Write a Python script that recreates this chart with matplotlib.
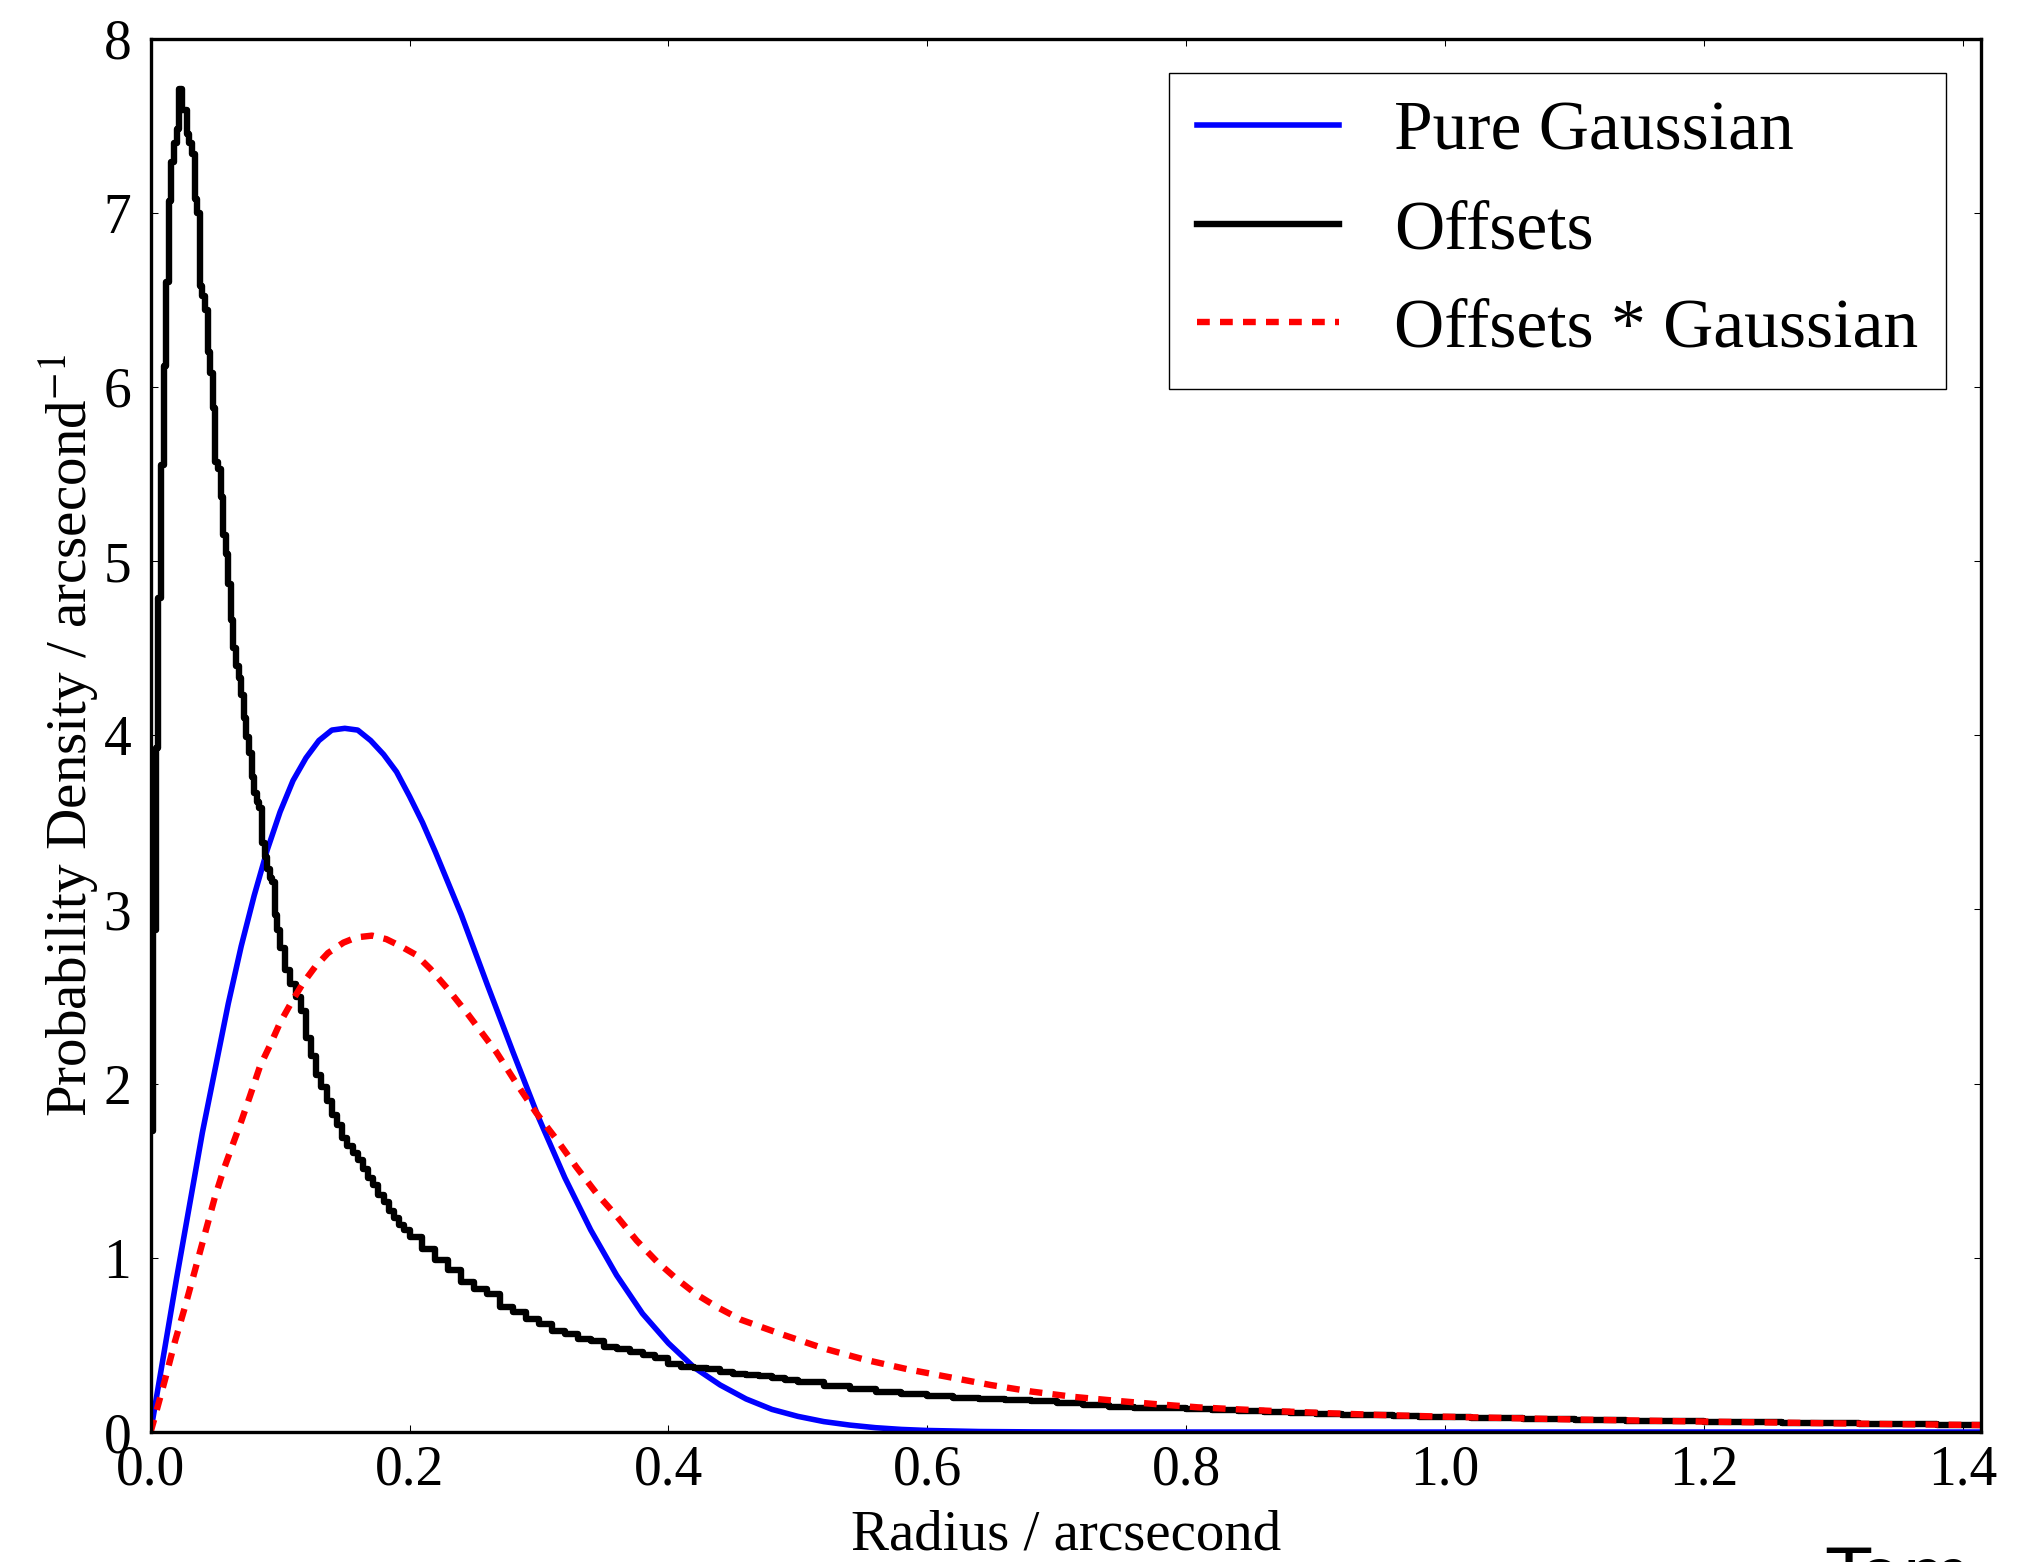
"""Radial offset distributions: pure Gaussian, measured offsets, and their convolution."""

import matplotlib
matplotlib.use("Agg")
import matplotlib.pyplot as plt
import numpy as np

plt.rcParams["font.family"] = "serif"
plt.rcParams["font.serif"] = ["Liberation Serif", "DejaVu Serif"]
plt.rcParams["mathtext.fontset"] = "stix"

# Pure Gaussian (radial) curve
gauss_r = [0, 0.02, 0.04, 0.06, 0.07, 0.08, 0.09, 0.10, 0.11, 0.12, 0.13, 0.14, 0.15,
           0.16, 0.17, 0.18, 0.19, 0.20, 0.21, 0.22, 0.23, 0.24, 0.25, 0.26, 0.28, 0.30,
           0.32, 0.34, 0.36, 0.38, 0.40, 0.42, 0.44, 0.46, 0.48, 0.50, 0.52, 0.54,
           0.56, 0.58, 0.60, 0.64, 0.68, 0.72, 0.80, 1.0, 1.414]
gauss_v = [0, 0.88, 1.72, 2.46, 2.79, 3.08, 3.34, 3.56, 3.74, 3.87, 3.97, 4.03, 4.04,
           4.03, 3.97, 3.89, 3.79, 3.65, 3.50, 3.33, 3.15, 2.97, 2.77, 2.57, 2.18, 1.80,
           1.46, 1.16, 0.90, 0.68, 0.51, 0.37, 0.27, 0.19, 0.13, 0.09, 0.06, 0.04,
           0.025, 0.015, 0.009, 0.003, 0.001, 0.0, 0.0, 0.0, 0.0]

# Offsets histogram, in four stretches of different bin width
offs_fine = [1.73, 2.88, 3.93, 4.79, 5.55, 6.12, 6.60, 7.07, 7.29, 7.40,
             7.48, 7.71, 7.59, 7.59, 7.45, 7.40, 7.34, 7.08, 7.00, 6.58,
             6.52, 6.44, 6.20, 6.08, 5.88, 5.57, 5.53, 5.37, 5.15, 5.04,
             4.87, 4.66, 4.50, 4.40, 4.33, 4.23, 4.10, 3.99, 3.90, 3.76,
             3.67, 3.62, 3.58, 3.38, 3.30, 3.23, 3.18, 3.16, 2.97, 2.88]   # 0.002 bins from 0
offs_mid = [2.78, 2.65, 2.57, 2.50, 2.42, 2.26, 2.16, 2.05, 1.98, 1.90,
            1.82, 1.76, 1.69, 1.64, 1.60, 1.56, 1.51, 1.46, 1.42, 1.36,
            1.32, 1.27, 1.23, 1.19, 1.16]                                    # 0.004 bins from 0.1
offs_wide = [1.12, 1.05, 0.99, 0.93, 0.86, 0.82, 0.79, 0.72, 0.69, 0.65,
             0.62, 0.58, 0.56, 0.535, 0.52, 0.49, 0.475, 0.46, 0.44, 0.425,
             0.39, 0.375, 0.37, 0.36, 0.345, 0.335, 0.325, 0.32, 0.31, 0.30]  # 0.01 bins from 0.2
offs_tail = [0.285, 0.265, 0.245, 0.23, 0.22, 0.205, 0.196, 0.19, 0.183, 0.178,
             0.165, 0.155, 0.142, 0.14, 0.137, 0.131, 0.125, 0.12, 0.113, 0.108,
             0.106, 0.099, 0.095, 0.091, 0.089, 0.085, 0.082, 0.079, 0.077, 0.073,
             0.070, 0.068, 0.066, 0.064, 0.062, 0.059, 0.056, 0.055, 0.053, 0.051,
             0.050, 0.048, 0.046, 0.044, 0.042, 0.041]                       # 0.02 bins from 0.5

# Offsets convolved with the Gaussian
conv_r = [0, 0.0034, 0.0111, 0.0188, 0.0266, 0.0343, 0.042, 0.0497, 0.0561, 0.0639,
          0.0703, 0.0768, 0.0845, 0.0922, 0.100, 0.109, 0.118, 0.127, 0.137, 0.149,
          0.159, 0.171, 0.182, 0.193, 0.205, 0.216, 0.230, 0.245, 0.2672, 0.2827,
          0.2981, 0.3136, 0.329, 0.3445, 0.36, 0.3754, 0.3909, 0.4062, 0.4217, 0.437,
          0.456, 0.488, 0.520, 0.552, 0.585, 0.617, 0.649, 0.681, 0.713, 0.745,
          0.777, 0.809, 0.841, 0.873, 0.91, 0.95, 1.0, 1.05, 1.10, 1.15,
          1.20, 1.25, 1.30, 1.35, 1.414]
conv_v = [0, 0.09, 0.30, 0.52, 0.72, 0.93, 1.14, 1.35, 1.50, 1.66,
          1.79, 1.93, 2.10, 2.22, 2.35, 2.47, 2.58, 2.67, 2.75, 2.81,
          2.84, 2.85, 2.83, 2.79, 2.74, 2.66, 2.54, 2.40, 2.18, 2.00,
          1.83, 1.68, 1.52, 1.37, 1.24, 1.10, 0.98, 0.88, 0.79, 0.72,
          0.645, 0.56, 0.48, 0.415, 0.36, 0.315, 0.27, 0.232, 0.202, 0.180,
          0.160, 0.142, 0.130, 0.119, 0.108, 0.098, 0.088, 0.080, 0.072, 0.066,
          0.060, 0.055, 0.050, 0.045, 0.040]

x_ticks = [0.0, 0.2, 0.4, 0.6, 0.8, 1.0, 1.2, 1.4]
y_ticks = [0, 1, 2, 3, 4, 5, 6, 7, 8]

# bin edges for the step curve
edges = np.concatenate([
    np.arange(len(offs_fine)) * 0.002,
    0.1 + np.arange(len(offs_mid)) * 0.004,
    0.2 + np.arange(len(offs_wide)) * 0.01,
    0.5 + np.arange(len(offs_tail)) * 0.02,
    [1.42],
])
offs = np.concatenate([offs_fine, offs_mid, offs_wide, offs_tail])
offs = np.append(offs, offs[-1])

fig = plt.figure(figsize=(20.19, 15.62), dpi=100)
ax = fig.add_axes([0.0746, 0.0832, 0.9066, 0.8921])

ax.plot(gauss_r, gauss_v, color="blue", lw=4.0, label="Pure Gaussian")
ax.plot(edges, offs, color="black", lw=4.6, drawstyle="steps-post", label="Offsets")
ax.plot(conv_r, conv_v, color="red", lw=4.6, ls=(0, (2.0, 1.6)), label="Offsets * Gaussian")

ax.set_xlim(0, 1.414)
ax.set_ylim(0, 8)
ax.set_xticks(x_ticks)
ax.set_yticks(y_ticks)
ax.tick_params(direction="in", top=True, right=True, length=5, width=0.75, labelsize=40)
ax.tick_params(axis="x", pad=9)
ax.tick_params(axis="y", pad=14)
for s in ax.spines.values():
    s.set_linewidth(2.4)

ax.set_xlabel("Radius / arcsecond", fontsize=41, labelpad=9)
ax.set_ylabel("Probability Density / arcsecond$^{-1}$", fontsize=41, labelpad=1)

leg = ax.legend(loc="upper right", fontsize=50, fancybox=False, framealpha=1,
                edgecolor="black", handlelength=2.05, handletextpad=0.8,
                borderpad=0.4, labelspacing=0.5, borderaxespad=0.5)
leg.get_frame().set_linewidth(1.0)

# name tag cut off at the bottom edge
fig.text(1826 / 2019, 17 / 1562, "Tom", family="DejaVu Sans", fontsize=52,
         ha="left", va="top")

fig.savefig("out.png", dpi=100)
